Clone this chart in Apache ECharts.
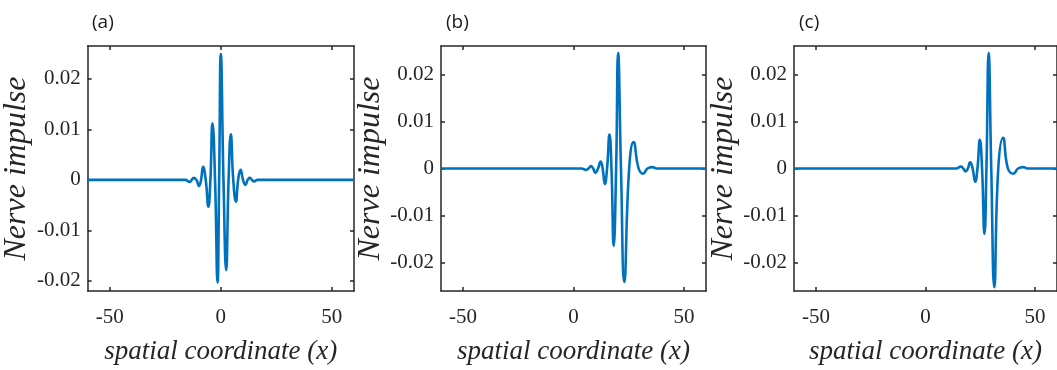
<!DOCTYPE html>
<html>
<head>
<meta charset="utf-8">
<script src="https://cdn.jsdelivr.net/npm/echarts@6/dist/echarts.min.js"></script>
<style>
  html, body { margin: 0; padding: 0; background: #ffffff; }
  #chart { width: 1057px; height: 370px; }
</style>
</head>
<body>
<div id="chart"></div>
<script>
// ---- data ----
const panelLabels = ['(a)', '(b)', '(c)'];
const xAxisName = 'spatial coordinate (x)';
const yAxisName = 'Nerve impulse';
const xTicks = [-50, 0, 50];
const yTicks = [-0.02, -0.01, 0, 0.01, 0.02];
const xRange = [-60, 60];
const yRangeA = [-0.022, 0.0265];
const yRangeB = [-0.026, 0.026];
const yRangeC = [-0.026, 0.026];

const xA = [-60, -22, -16, -14, -13.1, -12.2, -11, -9.8, -8.9, -8, -6.8, -5.6, -4.7, -3.75, -2.6, -1.5, -0.75, 0, 1.2, 2.4, 3.5, 4.5, 5.6, 6.8, 7.8, 8.9, 10, 11.1, 12.1, 13, 14, 14.9, 16.5, 22, 60];
const yA = [0, 0, 0, -0.0004, 0, 0.0004, 0, -0.0012, 0, 0.0026, 0, -0.0053, 0, 0.0112, 0, -0.0203, 0, 0.0249, 0, -0.0179, 0, 0.0090, 0, -0.0043, 0, 0.0020, 0, -0.0010, 0, 0.0004, 0, -0.0003, 0, 0, 0];

const xB = [-60, 3.5, 5.7, 6.8, 7.9, 8.9, 9.9, 11.1, 12.3, 13.2, 14.2, 15.2, 16.3, 17.2, 18.2, 19.3, 20.2, 21.5, 23.0, 25.2, 27.2, 29.5, 31.5, 33.5, 35.6, 38, 60];
const yB = [0, 0, -0.0003, 0, 0.0005, 0, -0.0009, 0, 0.0015, 0, -0.0033, 0, 0.0072, 0, -0.0164, 0, 0.0245, 0, -0.0241, 0, 0.0056, 0, -0.0011, 0, 0.0003, 0, 0];

const xC = [-60, 14, 16.1, 17.2, 18.3, 19.3, 20.4, 21.5, 22.7, 23.7, 24.8, 25.8, 26.9, 27.8, 28.8, 30.0, 31.4, 33.2, 35.4, 37.6, 40.1, 42.2, 44.6, 46.5, 48, 60];
const yC = [0, 0, 0.0004, 0, -0.0006, 0, 0.0013, 0, -0.0028, 0, 0.0061, 0, -0.0139, 0, 0.0245, 0, -0.0252, 0, 0.0065, 0, -0.0011, 0, 0.0003, 0, 0, 0];

// ---- layout ----
const grids = [
  { left: 87, top: 46, width: 267, height: 249 },
  { left: 441, top: 46, width: 265, height: 249 },
  { left: 794, top: 46, width: 267, height: 247 }
];
const yRanges = [yRangeA, yRangeB, yRangeC];
const xs = [xA, xB, xC];
const ys = [yA, yB, yC];

const axisColor = '#262626';
const lineCol = { color: axisColor, width: 1.5 };

const xAxes = [], yAxes = [], series = [], titles = [];
grids.forEach((g, i) => {
  xAxes.push({
    gridIndex: i, type: 'value', position: 'bottom', min: xRange[0], max: xRange[1],
    axisLine: { show: true, onZero: false, lineStyle: lineCol },
    axisTick: { show: true, inside: true, length: 4, customValues: xTicks, lineStyle: lineCol },
    axisLabel: { customValues: xTicks, fontFamily: 'Liberation Serif', fontSize: 21, color: axisColor, margin: 16 },
    splitLine: { show: false },
    name: xAxisName, nameLocation: 'middle', nameGap: 47,
    nameTextStyle: { fontFamily: 'Liberation Serif', fontStyle: 'italic', fontSize: 27, color: axisColor }
  });
  xAxes.push({
    gridIndex: i, type: 'value', position: 'top', min: xRange[0], max: xRange[1],
    axisLine: { show: true, onZero: false, lineStyle: lineCol },
    axisTick: { show: true, inside: true, length: 4, customValues: xTicks, lineStyle: lineCol },
    axisLabel: { show: false, customValues: xTicks },
    splitLine: { show: false }
  });
  yAxes.push({
    gridIndex: i, type: 'value', position: 'left', min: yRanges[i][0], max: yRanges[i][1],
    axisLine: { show: true, onZero: false, lineStyle: lineCol },
    axisTick: { show: true, inside: true, length: 4, customValues: yTicks, lineStyle: lineCol },
    axisLabel: {
      customValues: yTicks, fontFamily: 'Liberation Serif', fontSize: 21, color: axisColor, margin: 7,
      formatter: v => (Math.abs(v) < 1e-12 ? '0' : v.toFixed(2))
    },
    splitLine: { show: false },
    name: yAxisName, nameLocation: 'middle', nameGap: 49, nameRotate: 90,
    nameTextStyle: { fontFamily: 'Liberation Serif', fontStyle: 'italic', fontSize: 32, color: axisColor }
  });
  yAxes.push({
    gridIndex: i, type: 'value', position: 'right', min: yRanges[i][0], max: yRanges[i][1],
    axisLine: { show: true, onZero: false, lineStyle: lineCol },
    axisTick: { show: true, inside: true, length: 4, customValues: yTicks, lineStyle: lineCol },
    axisLabel: { show: false, customValues: yTicks },
    splitLine: { show: false }
  });
  series.push({
    type: 'line', xAxisIndex: i * 2, yAxisIndex: i * 2,
    data: xs[i].map((x, k) => [x, ys[i][k]]),
    showSymbol: false, smooth: 0.5,
    lineStyle: { color: '#0072BD', width: 2.6 },
    clip: true
  });
  titles.push({
    text: panelLabels[i], left: g.left, top: 8,
    textStyle: { fontFamily: 'Open Sans', fontSize: 19, fontWeight: 'normal', color: '#1a1a1a' }
  });
});

const chart = echarts.init(document.getElementById('chart'), null, { renderer: 'canvas' });
chart.setOption({
  animation: false,
  backgroundColor: '#ffffff',
  title: titles,
  grid: grids,
  xAxis: xAxes,
  yAxis: yAxes,
  series: series
});
</script>
</body>
</html>
